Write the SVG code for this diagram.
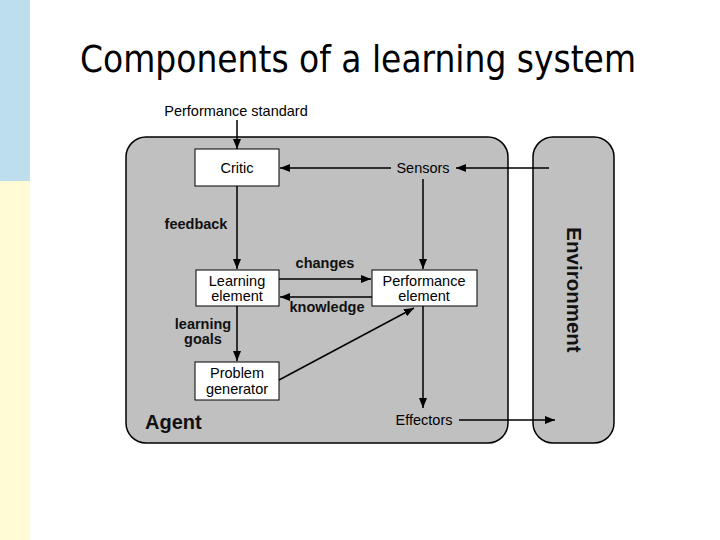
<svg xmlns="http://www.w3.org/2000/svg" width="720" height="540" viewBox="0 0 720 540">
<defs>
<marker id="ah" markerWidth="10" markerHeight="8" refX="10" refY="4" orient="auto" markerUnits="userSpaceOnUse">
<path d="M0,0 L10,4 L0,8 Z" fill="#000"/>
</marker>
<style>
.lbl{font-family:"Liberation Sans",Arial,sans-serif;font-size:14.5px;fill:#000}
.bl{font-family:"Liberation Sans",Arial,sans-serif;font-size:14.5px;font-weight:bold;fill:#111}
.box{fill:#fff;stroke:#000;stroke-width:1}
.ln{stroke:#000;stroke-width:1.5;fill:none}
.ar{stroke:#000;stroke-width:1.5;fill:none;marker-end:url(#ah)}
.panel{fill:#c0c0c0;stroke:#000;stroke-width:1.5}
</style>
</defs>
<rect x="0" y="0" width="720" height="540" fill="#fff"/>
<rect x="0" y="0" width="30" height="181" fill="#bcdeed"/>
<rect x="0" y="181" width="30" height="359" fill="#fffbd5"/>
<text x="358" y="72" text-anchor="middle" font-family="'DejaVu Sans Condensed','Liberation Sans',sans-serif" font-size="38" textLength="556" lengthAdjust="spacingAndGlyphs" fill="#000">Components of a learning system</text>

<g id="agent">
<rect class="panel" x="126" y="137" width="382" height="306" rx="20" ry="20"/>
<text x="145" y="429" font-family="'Liberation Sans',Arial,sans-serif" font-size="20" font-weight="bold" fill="#111">Agent</text>
</g>
<g id="environment">
<rect class="panel" x="533" y="137" width="81" height="306" rx="20" ry="20"/>
<text transform="translate(567,290) rotate(90)" text-anchor="middle" font-family="'Liberation Sans',Arial,sans-serif" font-size="20.5" font-weight="bold" fill="#111">Environment</text>
</g>

<g id="critic">
<rect class="box" x="195" y="149" width="84" height="37"/>
<text class="lbl" x="237" y="173" text-anchor="middle">Critic</text>
</g>
<g id="learning-element">
<rect class="box" x="196" y="270" width="83" height="36"/>
<text class="lbl" x="237" y="286" text-anchor="middle">Learning</text>
<text class="lbl" x="237" y="301" text-anchor="middle">element</text>
</g>
<g id="performance-element">
<rect class="box" x="372" y="270" width="105" height="36"/>
<text class="lbl" x="424" y="286" text-anchor="middle">Performance</text>
<text class="lbl" x="424" y="301" text-anchor="middle">element</text>
</g>
<g id="problem-generator">
<rect class="box" x="195" y="362" width="84" height="38"/>
<text class="lbl" x="237" y="378" text-anchor="middle">Problem</text>
<text class="lbl" x="237" y="394" text-anchor="middle">generator</text>
</g>
<g id="sensors">
<text class="lbl" x="423" y="173" text-anchor="middle">Sensors</text>
</g>
<g id="effectors">
<text class="lbl" x="424" y="425" text-anchor="middle">Effectors</text>
</g>
<g id="performance-standard">
<text class="lbl" x="236" y="116" text-anchor="middle">Performance standard</text>
</g>

<g id="connectors">
<line class="ar" x1="237" y1="120" x2="237" y2="149"/>
<line class="ar" x1="549" y1="168" x2="456" y2="168"/>
<line class="ar" x1="391" y1="168" x2="280" y2="168"/>
<line class="ar" x1="423" y1="179" x2="423" y2="269"/>
<line class="ar" x1="237" y1="186" x2="237" y2="269"/>
<line class="ar" x1="279" y1="279" x2="371" y2="279"/>
<line class="ar" x1="372" y1="297" x2="280" y2="297"/>
<line class="ar" x1="237" y1="306" x2="237" y2="361"/>
<line class="ar" x1="279" y1="380" x2="414" y2="308"/>
<line class="ar" x1="423" y1="306" x2="423" y2="408"/>
<line class="ar" x1="459" y1="420" x2="555" y2="420"/>
<text class="bl" x="196" y="229" text-anchor="middle">feedback</text>
<text class="bl" x="325" y="268" text-anchor="middle">changes</text>
<text class="bl" x="327" y="312" text-anchor="middle">knowledge</text>
<text class="bl" x="203" y="329" text-anchor="middle">learning</text>
<text class="bl" x="203" y="344" text-anchor="middle">goals</text>
</g>
</svg>
